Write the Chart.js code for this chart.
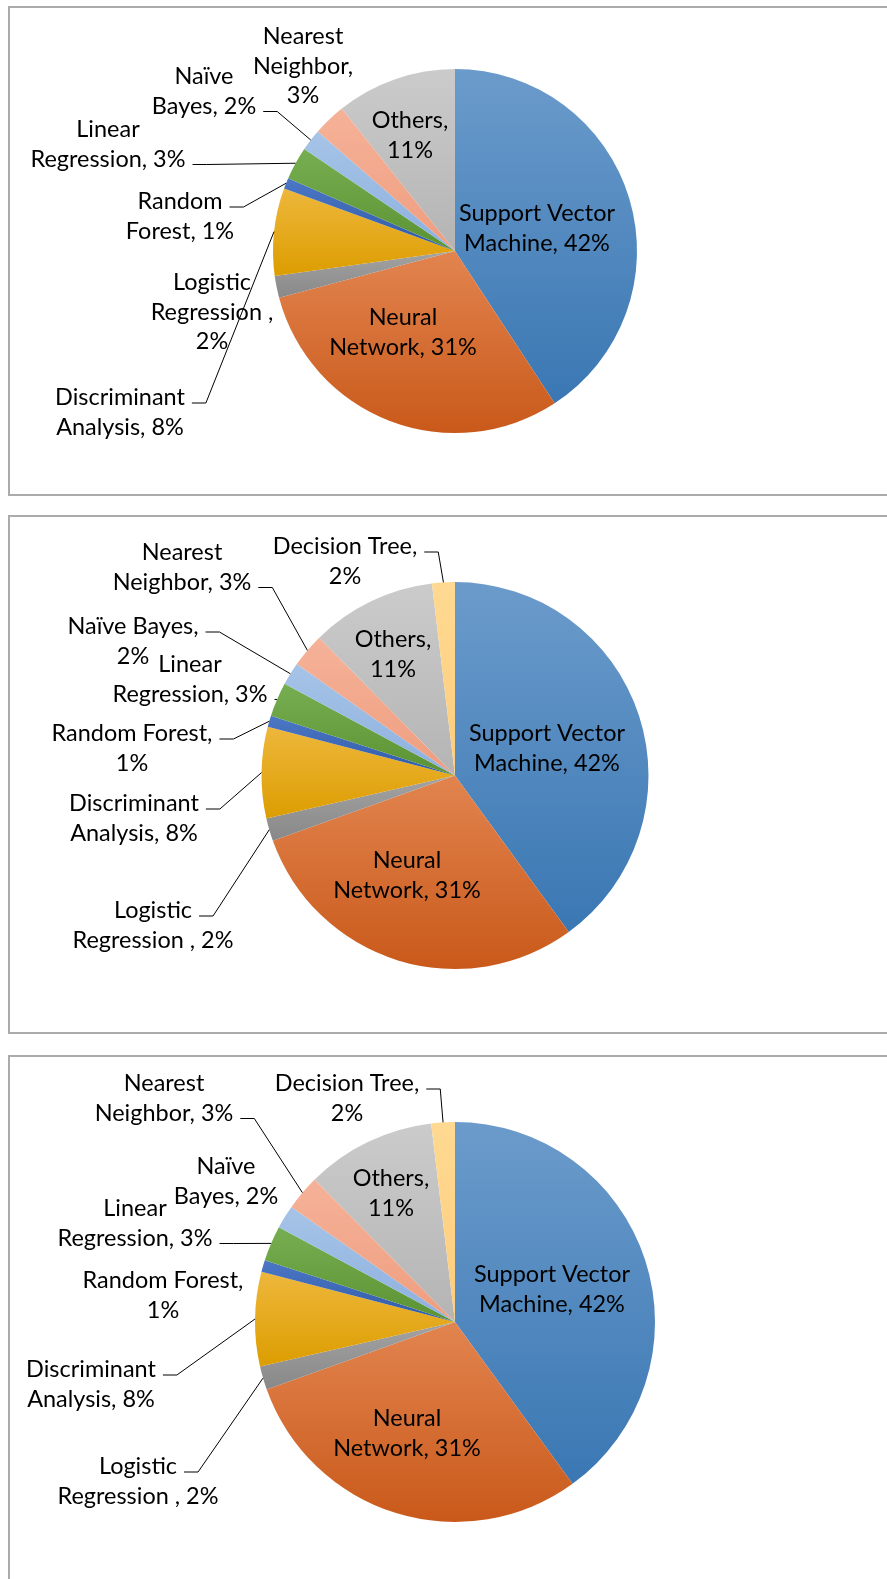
<!DOCTYPE html>
<html lang="en">
<head>
<meta charset="UTF-8">
<title>Machine learning methods - pie charts</title>
<script src="https://cdn.jsdelivr.net/npm/chart.js"></script>
<style>
  body { margin: 0; background: #fff; width: 887px; height: 1579px; overflow: hidden; position: relative; }
  .panel { position: absolute; left: 8px; width: 900px; border: 2px solid #ababab; box-sizing: border-box; }
  canvas { position: absolute; left: 0; }
</style>
</head>
<body>
<div class="panel" style="top:6px;height:490px"></div>
<div class="panel" style="top:515px;height:519px"></div>
<div class="panel" style="top:1055px;height:600px"></div>
<canvas id="pie1" width="887" height="510" style="top:0"></canvas>
<canvas id="pie2" width="887" height="540" style="top:505px"></canvas>
<canvas id="pie3" width="887" height="534" style="top:1045px"></canvas>

<script>
// data (values are the shown percentages)
const categories1 = ['Support Vector Machine', 'Neural Network', 'Logistic Regression ', 'Discriminant Analysis',
  'Random Forest', 'Linear Regression', 'Naïve Bayes', 'Nearest Neighbor', 'Others'];
const shares1 = [42, 31, 2, 8, 1, 3, 2, 3, 11];

const categories2 = categories1.concat(['Decision Tree']);
const shares2 = [42, 31, 2, 8, 1, 3, 2, 3, 11, 2];

const categories3 = categories1.concat(['Decision Tree']);
const shares3 = [42, 31, 2, 8, 1, 3, 2, 3, 11, 2];

// top / bottom colour of each slice gradient
const sliceColors = [
  ['#6b9bcb', '#3a77b3'],
  ['#e2844f', '#c9591a'],
  ['#a3a3a3', '#888888'],
  ['#eeb73c', '#dc9d00'],
  ['#4b77c4', '#2f5aa8'],
  ['#77ae51', '#5a9233'],
  ['#a7c4e7', '#8cb0df'],
  ['#f5b299', '#ef9d7e'],
  ['#cbcbcb', '#b4b4b4'],
  ['#ffd992', '#fccd7b']
];

const FONT = '23px Lato, "Open Sans", sans-serif';
const LINE_H = 29.5;
const H_SCALE = 1.02;

// gradient per slice, top to bottom of the slice's own box
function sliceFill(context) {
  const chart = context.chart;
  const area = chart.chartArea;
  const pair = sliceColors[context.dataIndex];
  if (!area) return pair[0];
  const data = context.dataset.data;
  const total = data.reduce((a, b) => a + b, 0);
  let before = 0;
  for (let k = 0; k < context.dataIndex; k++) before += data[k];
  const a0 = -Math.PI / 2 + before / total * 2 * Math.PI;
  const a1 = a0 + data[context.dataIndex] / total * 2 * Math.PI;
  const cx = (area.left + area.right) / 2, cy = (area.top + area.bottom) / 2;
  const r = Math.min(area.width, area.height) / 2;
  const ys = [cy, cy + r * Math.sin(a0), cy + r * Math.sin(a1)];
  [Math.PI / 2, 3 * Math.PI / 2].forEach(t => { if (t > a0 && t < a1) ys.push(cy + r * Math.sin(t)); });
  const y0 = Math.min(...ys), y1 = Math.max(...ys);
  const g = chart.ctx.createLinearGradient(0, y0, 0, y1 + 0.5);
  g.addColorStop(0, pair[0]);
  g.addColorStop(1, pair[1]);
  return g;
}

// data labels with leader lines (Excel style)
const pieLabels = {
  id: 'pieLabels',
  afterDatasetsDraw(chart, args, opts) {
    const ctx = chart.ctx;
    const arcs = chart.getDatasetMeta(0).data;
    const cats = chart.data.labels;
    const vals = chart.data.datasets[0].data;
    ctx.save();
    ctx.font = FONT;
    ctx.fillStyle = '#000';
    ctx.textAlign = 'center';
    ctx.textBaseline = 'middle';
    ctx.strokeStyle = '#000';
    ctx.lineWidth = 1;
    opts.items.forEach(it => {
      const arc = arcs[it.i];
      const words = (cats[it.i] + ', ' + vals[it.i] + '%').split(' ');
      const lines = [];
      let w = 0;
      it.lines.forEach(n => { lines.push(words.slice(w, w + n).join(' ')); w += n; });
      const x = arc.x + it.dx, y0 = arc.y + it.dy;
      lines.forEach((txt, k) => {
        ctx.save();
        ctx.translate(x, y0 + k * LINE_H);
        ctx.scale(H_SCALE, 1);
        ctx.fillText(txt, 0, 0);
        ctx.restore();
      });
      if (it.leader !== undefined) {
        const lw = ctx.measureText(lines[it.leader]).width * H_SCALE;
        const sx = x + lw / 2 + 7, sy = y0 + it.leader * LINE_H + 5;
        const mid = (arc.startAngle + arc.endAngle) / 2;
        const ax = arc.x + Math.cos(mid) * arc.outerRadius;
        const ay = arc.y + Math.sin(mid) * arc.outerRadius;
        ctx.beginPath();
        ctx.moveTo(sx, sy);
        if (ax - sx > 14) ctx.lineTo(sx + 14, sy);
        ctx.lineTo(ax, ay);
        ctx.stroke();
      }
    });
    ctx.restore();
  }
};

function makePie(id, cats, vals, cx, cy, r, items) {
  const canvas = document.getElementById(id);
  const W = canvas.width, H = canvas.height;
  return new Chart(canvas, {
    type: 'pie',
    data: {
      labels: cats,
      datasets: [{ data: vals, backgroundColor: sliceFill, borderWidth: 0 }]
    },
    options: {
      responsive: false,
      animation: false,
      layout: { padding: { left: cx - r, right: W - cx - r, top: cy - r, bottom: H - cy - r } },
      plugins: {
        legend: { display: false },
        tooltip: { enabled: false },
        pieLabels: { items: items }
      }
    },
    plugins: [pieLabels]
  });
}

// label placement: i = slice, lines = words per line, dx/dy = first line centre from pie centre
makePie('pie1', categories1, shares1, 455, 251, 182, [
  { i: 0, lines: [2, 2], dx: 82, dy: -37 },
  { i: 1, lines: [1, 2], dx: -52, dy: 67 },
  { i: 2, lines: [1, 2, 1], dx: -243, dy: 32 },
  { i: 3, lines: [1, 2], dx: -335, dy: 147, leader: 0 },
  { i: 4, lines: [1, 2], dx: -275, dy: -49, leader: 0 },
  { i: 5, lines: [1, 2], dx: -347, dy: -121, leader: 1 },
  { i: 6, lines: [1, 2], dx: -251, dy: -174, leader: 1 },
  { i: 7, lines: [1, 1, 1], dx: -152, dy: -214 },
  { i: 8, lines: [1, 1], dx: -45, dy: -130 }
]);

makePie('pie2', categories2, shares2, 455, 270.5, 193.5, [
  { i: 0, lines: [2, 2], dx: 92, dy: -41.5 },
  { i: 1, lines: [1, 2], dx: -48, dy: 85.5 },
  { i: 2, lines: [1, 3], dx: -302, dy: 135.5, leader: 0 },
  { i: 3, lines: [1, 2], dx: -321, dy: 28.5, leader: 0 },
  { i: 4, lines: [2, 1], dx: -323, dy: -41.5, leader: 0 },
  { i: 5, lines: [1, 2], dx: -265, dy: -110.5, leader: 1 },
  { i: 6, lines: [2, 1], dx: -322, dy: -148.5, leader: 0 },
  { i: 7, lines: [1, 2], dx: -273, dy: -222.5, leader: 1 },
  { i: 8, lines: [1, 1], dx: -62, dy: -135.5 },
  { i: 9, lines: [2, 1], dx: -110, dy: -228.5, leader: 0 }
]);

makePie('pie3', categories3, shares3, 455, 277, 200, [
  { i: 0, lines: [2, 2], dx: 97, dy: -47 },
  { i: 1, lines: [1, 2], dx: -48, dy: 97 },
  { i: 2, lines: [1, 3], dx: -317, dy: 145, leader: 0 },
  { i: 3, lines: [1, 2], dx: -364, dy: 48, leader: 0 },
  { i: 4, lines: [2, 1], dx: -292, dy: -41 },
  { i: 5, lines: [1, 2], dx: -320, dy: -113, leader: 1 },
  { i: 6, lines: [1, 2], dx: -229, dy: -155 },
  { i: 7, lines: [1, 2], dx: -291, dy: -238, leader: 1 },
  { i: 8, lines: [1, 1], dx: -64, dy: -143 },
  { i: 9, lines: [2, 1], dx: -108, dy: -238, leader: 0 }
]);
</script>
</body>
</html>
